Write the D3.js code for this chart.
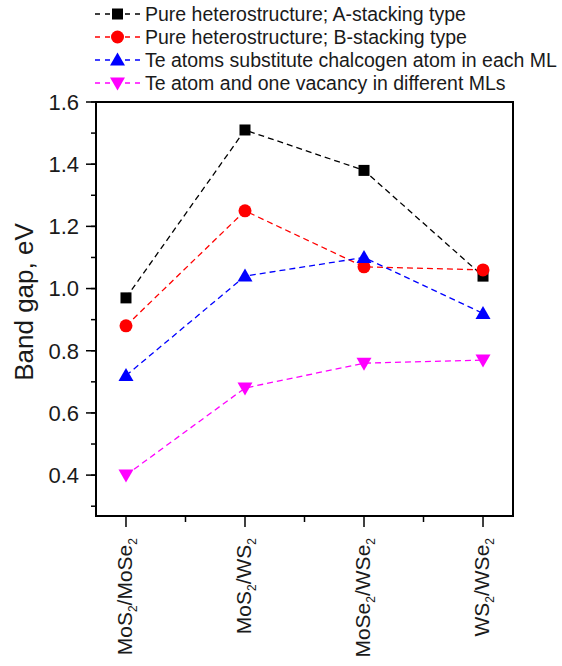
<!DOCTYPE html>
<html><head><meta charset="utf-8">
<script src="https://cdn.jsdelivr.net/npm/d3@7"></script>
<style>body{margin:0;background:#fff;} svg{display:block;font-family:Arial,"Liberation Sans",sans-serif;}</style>
</head><body>
<script>
const categories = [["MoS","2","/MoSe","2"],["MoS","2","/WS","2"],["MoSe","2","/WSe","2"],["WS","2","/WSe","2"]];
const seriesNames = ["Pure heterostructure; A-stacking type","Pure heterostructure; B-stacking type","Te atoms substitute chalcogen atom in each ML","Te atom and one vacancy in different MLs"];
const seriesA = [0.97, 1.51, 1.38, 1.04];
const seriesB = [0.88, 1.25, 1.07, 1.06];
const seriesC = [0.72, 1.04, 1.10, 0.92];
const seriesD = [0.40, 0.68, 0.76, 0.77];
const yTicks = [0.4, 0.6, 0.8, 1.0, 1.2, 1.4, 1.6];
const colors = ["#000000","#ff0000","#0000ff","#ff00ff"];
const symbols = ["square","circle","triangle","triangleDown"];
const allSeries = [seriesA, seriesB, seriesC, seriesD];

const W = 562, H = 666;
const svg = d3.select("body").append("svg").attr("width", W).attr("height", H);
const pL = 96, pR = 513, pT = 102, pB = 516;
const x = d3.scaleLinear().domain([-0.252, 3.252]).range([pL, pR]);
const y = d3.scaleLinear().domain([0.2685, 1.6]).range([pB, pT]);

// frame
svg.append("rect").attr("x", pL).attr("y", pT).attr("width", pR-pL).attr("height", pB-pT)
  .attr("fill","none").attr("stroke","#000").attr("stroke-width",2);

// y axis
const yMinor = d3.range(0.3, 1.61, 0.1).map(v => +v.toFixed(2));
const gy = svg.append("g");
gy.selectAll("line.minor").data(yMinor).enter().append("line")
  .attr("x1", pL-5).attr("x2", pL).attr("y1", d=>y(d)).attr("y2", d=>y(d)).attr("stroke","#000").attr("stroke-width",1.5);
gy.selectAll("line.major").data(yTicks).enter().append("line")
  .attr("x1", pL-10).attr("x2", pL).attr("y1", d=>y(d)).attr("y2", d=>y(d)).attr("stroke","#000").attr("stroke-width",1.5);
gy.selectAll("text").data(yTicks).enter().append("text")
  .attr("x", pL-17).attr("y", d=>y(d)).attr("dy","0.36em").attr("text-anchor","end")
  .attr("font-size", 22).attr("fill","#1a1a1a").text(d=>d.toFixed(1));
svg.append("text").attr("transform", `translate(33,302) rotate(-90)`)
  .attr("text-anchor","middle").attr("font-size", 26).attr("fill","#1a1a1a").text("Band gap, eV");

// x axis
const xMinor = [0.5, 1.5, 2.5];
const gx = svg.append("g");
gx.selectAll("line.minor").data(xMinor).enter().append("line")
  .attr("x1", d=>x(d)).attr("x2", d=>x(d)).attr("y1", pB).attr("y2", pB+6).attr("stroke","#000").attr("stroke-width",1.5);
gx.selectAll("line.major").data(d3.range(categories.length)).enter().append("line")
  .attr("x1", d=>x(d)).attr("x2", d=>x(d)).attr("y1", pB).attr("y2", pB+11).attr("stroke","#000").attr("stroke-width",1.5);
categories.forEach((c, i) => {
  const t = svg.append("text").attr("transform", `translate(${x(i)+6},${pB+22}) rotate(-90)`)
    .attr("text-anchor","end").attr("font-size", 21).attr("fill","#1a1a1a");
  t.append("tspan").text(c[0]);
  t.append("tspan").attr("font-size", 12).attr("dy", 5).text(c[1]);
  t.append("tspan").attr("dy", -5).text(c[2]);
  t.append("tspan").attr("font-size", 12).attr("dy", 5).text(c[3]);
});

function drawSymbol(g, type, cx, cy, color) {
  if (type === "square") {
    g.append("rect").attr("x", cx-5.5).attr("y", cy-5.5).attr("width", 11).attr("height", 11).attr("fill", color);
  } else if (type === "circle") {
    g.append("circle").attr("cx", cx).attr("cy", cy).attr("r", 6.5).attr("fill", color);
  } else if (type === "triangle") {
    g.append("path").attr("d", `M${cx},${cy-7.5}L${cx+7.5},${cy+5.5}L${cx-7.5},${cy+5.5}Z`).attr("fill", color);
  } else {
    g.append("path").attr("d", `M${cx},${cy+7.5}L${cx+7.5},${cy-5.5}L${cx-7.5},${cy-5.5}Z`).attr("fill", color);
  }
}

const line = d3.line().x((d,i)=>x(i)).y(d=>y(d));
allSeries.forEach((s, k) => {
  const g = svg.append("g");
  g.append("path").attr("d", line(s)).attr("fill","none").attr("stroke", colors[k])
    .attr("stroke-width", 1.3).attr("stroke-dasharray","6,4");
  s.forEach((v, i) => drawSymbol(g, symbols[k], x(i), y(v), colors[k]));
});

// legend
const lg = svg.append("g");
const rowsY = [14, 37, 60, 83];
seriesNames.forEach((n, k) => {
  const yy = rowsY[k];
  lg.append("line").attr("x1", 95).attr("x2", 140).attr("y1", yy).attr("y2", yy)
    .attr("stroke", colors[k]).attr("stroke-width", 1.3).attr("stroke-dasharray","5,5");
  drawSymbol(lg, symbols[k], 117.5, yy, colors[k]);
  lg.append("text").attr("x", 145).attr("y", yy).attr("dy","0.36em").attr("font-size", 19.5)
    .attr("fill","#1a1a1a").text(n);
});
</script>
</body></html>
